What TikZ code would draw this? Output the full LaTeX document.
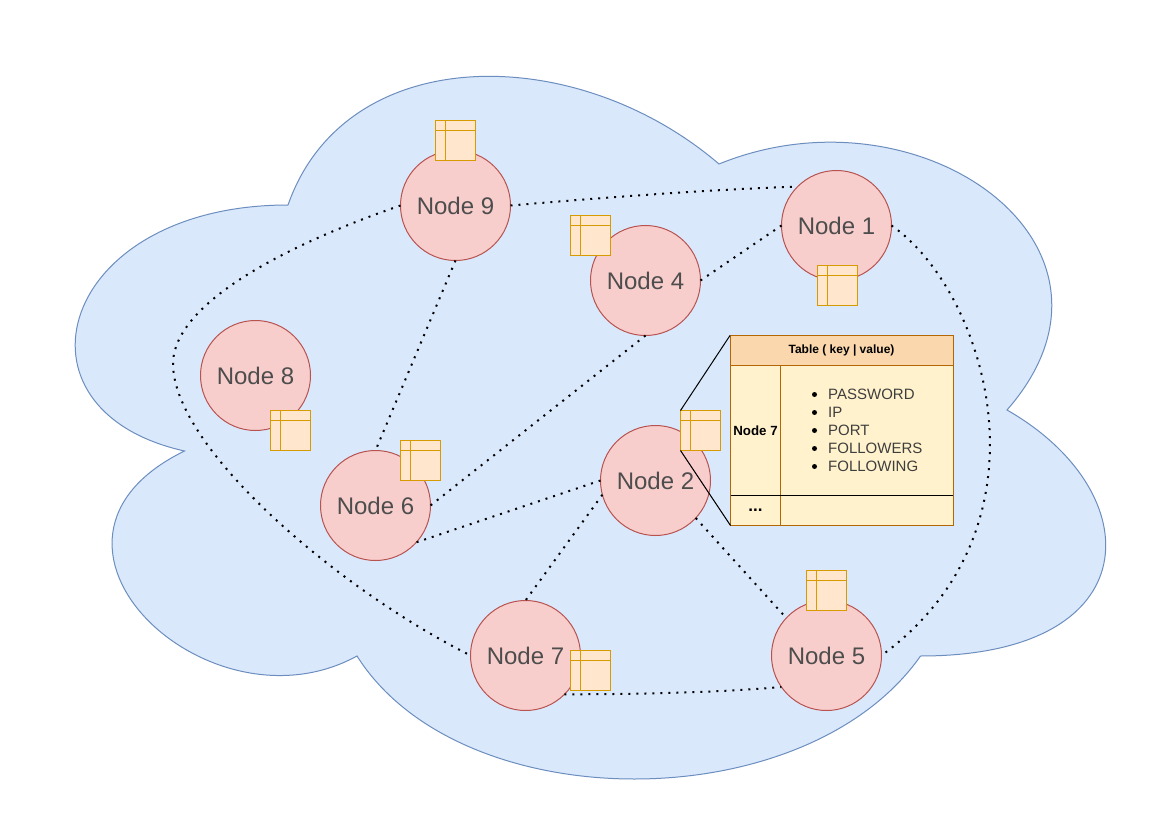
\documentclass[tikz,border=0pt]{standalone}
\usepackage{fontspec}
\setmainfont{Liberation Sans}
\definecolor{cloudfill}{HTML}{DAE8FC}
\definecolor{clouddraw}{HTML}{6C8EBF}
\definecolor{peerfill}{HTML}{F8CECC}
\definecolor{peerdraw}{HTML}{B85450}
\definecolor{minifill}{HTML}{FFE6CC}
\definecolor{minidraw}{HTML}{D79B00}
\definecolor{headfill}{HTML}{FAD7AC}
\definecolor{bodyfill}{HTML}{FFF2CC}
\definecolor{tabledraw}{HTML}{B46504}
\definecolor{labelgrey}{HTML}{4D4D4D}
\tikzset{
  peer/.style={circle,draw=peerdraw,fill=peerfill,line width=1pt,minimum size=110pt,inner sep=0pt,outer sep=0pt,
    text=labelgrey,font=\fontsize{24}{28}\selectfont},
  mini/.style={rectangle,draw=minidraw,fill=minifill,line width=1.2pt,minimum size=40pt,inner sep=0pt,outer sep=0pt,
    path picture={
      \draw[minidraw,line width=1.2pt] ([xshift=10pt]path picture bounding box.north west) -- ([xshift=10pt]path picture bounding box.south west);
      \draw[minidraw,line width=1.2pt] ([yshift=-10pt]path picture bounding box.north west) -- ([yshift=-10pt]path picture bounding box.north east);
    }},
  link/.style={line width=2pt,dash pattern=on 2pt off 6pt,black},
  cell/.style={rectangle,draw=tabledraw,fill=bodyfill,line width=0.9pt,inner sep=0pt,outer sep=0pt,text=black},
  wedge/.style={black,line width=1pt},
  dotmark/.style={circle,fill=black,minimum size=5pt,inner sep=0pt,outer sep=0pt},
  itemtext/.style={anchor=west,inner sep=0pt,text=labelgrey!80!black,font=\fontsize{15}{18}\selectfont},
}
\begin{document}
\begin{tikzpicture}[x=1pt,y=-1pt]
\useasboundingbox (0,0) rectangle (1151,821);
\fill[white] (0,0) rectangle (1151,821);
% cloud
\draw[clouddraw,fill=cloudfill,line width=1pt]
  (288,205) .. controls (58,205) and (0.5,410) .. (184.5,451)
  .. controls (0.5,541) and (207.5,738) .. (357,656)
  .. controls (460.5,820) and (805.5,820) .. (920.5,656)
  .. controls (1150.5,656) and (1150.5,492) .. (1007,410)
  .. controls (1150.5,246) and (920.5,82) .. (719,164)
  .. controls (575.5,41) and (345.5,41) .. (288,205) -- cycle;
% peers
\node[peer] (n9) at (455.5,205.5) {Node 9};
\node[peer] (n1) at (836.5,225.5) {Node 1};
\node[peer] (n4) at (645.5,280.5) {Node 4};
\node[peer] (n8) at (255.5,375.5) {Node 8};
\node[peer] (n6) at (375.5,505.5) {Node 6};
\node[peer] (n2) at (655.5,480.5) {Node 2};
\node[peer] (n7) at (525.5,655.5) {Node 7};
\node[peer] (n5) at (826.5,655.5) {Node 5};
% links
\draw[link] (n9.east) .. controls (600,198) and (700,190) .. (n1.135);
\draw[link] (n4.east) -- (n1.west);
\draw[link] (n9.south) -- (n6.north);
\draw[link] (n4.south) -- (n6.east);
\draw[link] (n2.west) -- (n6.-42);
\draw[link] (n2.-165) -- (n7.north);
\draw[link] (n2.-43) -- (n5.137);
\draw[link] (n7.-45) .. controls (640,694) and (710,693) .. (n5.-145);
\draw[link] (n1.east) .. controls (985,290) and (1060,525) .. (n5.east);
\draw[link] (n9.west) .. controls (300,240) and (172,300) .. (173,365)
  .. controls (175,450) and (340,590) .. (n7.west);
% small tables
\node[mini] (t9) at (455.5,140.5) {};
\node[mini] (t1) at (837.5,285.5) {};
\node[mini] (t4) at (590.5,235.5) {};
\node[mini] (t8) at (290.5,430.5) {};
\node[mini] (t6) at (420.5,460.5) {};
\node[mini] (t2) at (700.5,430.5) {};
\node[mini] (t7) at (590.5,670.5) {};
\node[mini] (t5) at (826.5,590.5) {};
% big table
\node[cell,fill=headfill,minimum width=223pt,minimum height=30pt,font=\bfseries\fontsize{12}{14}\selectfont] (head) at (841.5,350.5) {Table ( key | value)};
\node[cell,minimum width=50pt,minimum height=130pt,font=\bfseries\fontsize{13.3}{15}\selectfont] (keycell) at (755.5,430.5) {Node 7};
\node[cell,minimum width=173pt,minimum height=130pt] (valcell) at (866.5,430.5) {};
\node[cell,minimum width=50pt,minimum height=30pt,font=\bfseries\fontsize{17}{17}\selectfont] (dots) at (755.5,510.5) {...};
\node[cell,minimum width=173pt,minimum height=30pt] (blank) at (866.5,510.5) {};
\draw[black,line width=1pt] (dots.north west) -- (blank.north east);
% list
\node[dotmark] (b1) at (814.5,394.5) {};
\node[dotmark] (b2) at (814.5,412.5) {};
\node[dotmark] (b3) at (814.5,430.5) {};
\node[dotmark] (b4) at (814.5,448.5) {};
\node[dotmark] (b5) at (814.5,466.5) {};
\node[itemtext] (i1) at (828,394.5) {PASSWORD};
\node[itemtext] (i2) at (828,412.5) {IP};
\node[itemtext] (i3) at (828,430.5) {PORT};
\node[itemtext] (i4) at (828,448.5) {FOLLOWERS};
\node[itemtext] (i5) at (828,466.5) {FOLLOWING};
\draw[wedge] (t2.north west) -- (head.north west);
\draw[wedge] (t2.south west) -- (dots.south west);
\end{tikzpicture}
\end{document}
